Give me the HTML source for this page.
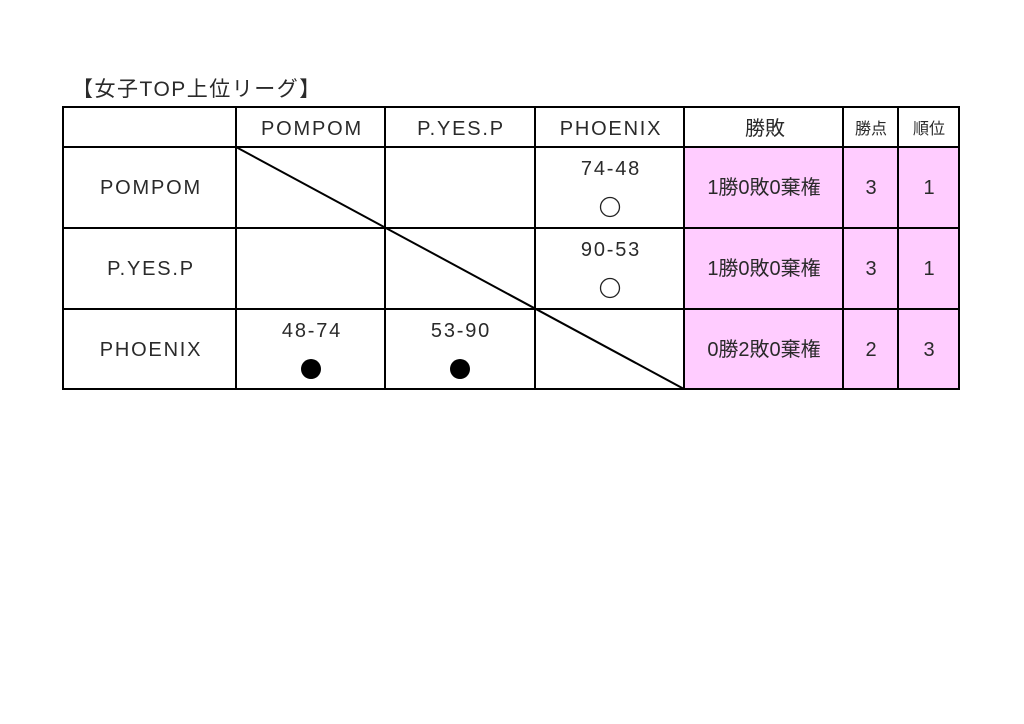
<!DOCTYPE html>
<html><head><meta charset="utf-8"><style>
html,body{margin:0;padding:0;background:#fff;}
svg{display:block;}
text{font-family:"Liberation Sans","Noto Sans CJK JP",sans-serif;fill:#2a2a2a;}
</style></head><body>
<svg width="1024" height="724" viewBox="0 0 1024 724" xmlns="http://www.w3.org/2000/svg">
<rect x="0" y="0" width="1024" height="724" fill="#fff"/>
<text x="72" y="96" font-size="21" letter-spacing="1.5">【女子TOP上位リーグ】</text>
<rect x="684" y="147" width="276" height="243" fill="#ffccff"/>
<g stroke="#000" stroke-width="2" fill="none">
<rect x="63" y="107" width="896" height="282"/>
<line x1="63" y1="147" x2="959" y2="147"/>
<line x1="63" y1="228" x2="959" y2="228"/>
<line x1="63" y1="309" x2="959" y2="309"/>
<line x1="236" y1="107" x2="236" y2="389"/>
<line x1="385" y1="107" x2="385" y2="389"/>
<line x1="535" y1="107" x2="535" y2="389"/>
<line x1="684" y1="107" x2="684" y2="389"/>
<line x1="843" y1="107" x2="843" y2="389"/>
<line x1="898" y1="107" x2="898" y2="389"/>
<line x1="236" y1="147" x2="684" y2="389"/>
</g>
<g font-size="20" text-anchor="middle" letter-spacing="1.8">
<text x="312" y="135">POMPOM</text>
<text x="461" y="135">P.YES.P</text>
<text x="611" y="135">PHOENIX</text>
<text x="765" y="135" letter-spacing="0">勝敗</text>
<text x="871" y="134" font-size="16" letter-spacing="0">勝点</text>
<text x="929" y="134" font-size="16" letter-spacing="0">順位</text>
<text x="151" y="194">POMPOM</text>
<text x="151" y="275">P.YES.P</text>
<text x="151" y="356">PHOENIX</text>
<text x="611" y="175">74-48</text>
<text x="611" y="256">90-53</text>
<text x="312" y="337">48-74</text>
<text x="461" y="337">53-90</text>
<text x="764" y="194" letter-spacing="0">1勝0敗0棄権</text>
<text x="764" y="275" letter-spacing="0">1勝0敗0棄権</text>
<text x="764" y="356" letter-spacing="0">0勝2敗0棄権</text>
<text x="871" y="194" letter-spacing="0">3</text>
<text x="871" y="275" letter-spacing="0">3</text>
<text x="871" y="356" letter-spacing="0">2</text>
<text x="929" y="194" letter-spacing="0">1</text>
<text x="929" y="275" letter-spacing="0">1</text>
<text x="929" y="356" letter-spacing="0">3</text>
</g>
<circle cx="610" cy="207" r="9.5" fill="none" stroke="#222" stroke-width="1.3"/>
<circle cx="610" cy="288" r="9.5" fill="none" stroke="#222" stroke-width="1.3"/>
<circle cx="311" cy="369" r="10" fill="#000"/>
<circle cx="460" cy="369" r="10" fill="#000"/>
</svg>
</body></html>
